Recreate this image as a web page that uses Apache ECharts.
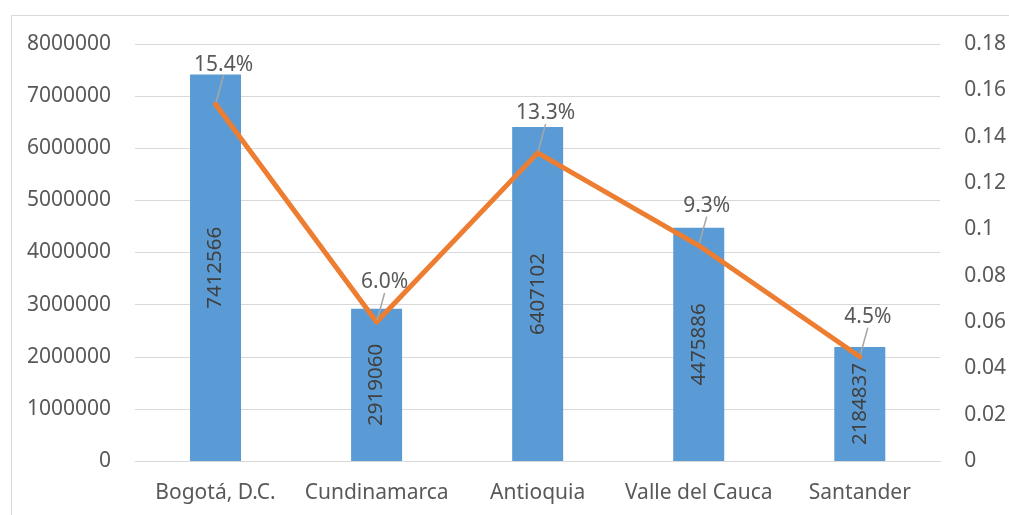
<!DOCTYPE html>
<html>
<head>
<meta charset="utf-8">
<script src="https://cdn.jsdelivr.net/npm/echarts@6/dist/echarts.min.js"></script>
<style>
  html, body { margin: 0; padding: 0; background: #fff; }
  #chart { width: 1009px; height: 515px; }
</style>
</head>
<body>
<div id="chart"></div>
<script>
// Population by department and share of the national total
const departments = ['Bogotá, D.C.', 'Cundinamarca', 'Antioquia', 'Valle del Cauca', 'Santander'];
const population = [7412566, 2919060, 6407102, 4475886, 2184837];
const share = [0.154, 0.060, 0.133, 0.093, 0.045];
const leftTicks = { min: 0, max: 8000000, interval: 1000000 };
const rightTicks = { min: 0, max: 0.18, interval: 0.02 };

const FONT = 'Noto Sans';
const TEXT = '#595959';
const GRID_LINE = '#D9D9D9';

const chart = echarts.init(document.getElementById('chart'), null, { renderer: 'canvas' });

// Share labels float above each line point, tied back to it by a short guide line
function shareLabelLayout(params) {
  const r = params.rect;
  return {
    x: r.x + r.width / 2 + 8,
    y: r.y + r.height / 2 - 29,
    align: 'center',
    verticalAlign: 'bottom'
  };
}

const option = {
  animation: false,
  backgroundColor: '#fff',
  textStyle: { fontFamily: FONT },
  graphic: [{
    type: 'rect',
    shape: { x: 11.5, y: 15.5, width: 1200, height: 700 },
    style: { fill: 'none', stroke: GRID_LINE, lineWidth: 1 },
    silent: true,
    z: -1
  }],
  grid: { left: 135, right: 67, top: 44, bottom: 54 },
  xAxis: {
    type: 'category',
    data: departments,
    axisLine: { show: true, lineStyle: { color: GRID_LINE, width: 1 } },
    axisTick: { show: false },
    axisLabel: { color: TEXT, fontSize: 21, fontFamily: FONT, margin: 22, interval: 0 }
  },
  yAxis: [{
    type: 'value',
    min: leftTicks.min, max: leftTicks.max, interval: leftTicks.interval,
    axisLine: { show: false },
    axisTick: { show: false },
    splitLine: { lineStyle: { color: GRID_LINE, width: 1 } },
    axisLabel: { color: TEXT, fontSize: 21, fontFamily: FONT, margin: 24, formatter: v => String(v) }
  }, {
    type: 'value',
    min: rightTicks.min, max: rightTicks.max, interval: rightTicks.interval,
    axisLine: { show: false },
    axisTick: { show: false },
    splitLine: { show: false },
    axisLabel: {
      color: TEXT, fontSize: 21, fontFamily: FONT, margin: 24,
      formatter: v => String(Math.round(v * 100) / 100)
    }
  }],
  series: [{
    name: 'Población',
    type: 'bar',
    data: population,
    barWidth: 51,
    itemStyle: { color: '#5B9BD5' },
    label: {
      show: true,
      position: 'inside',
      rotate: 90,
      color: '#404040',
      fontSize: 20.5,
      fontFamily: FONT
    },
    z: 2
  }, {
    name: 'Participación',
    type: 'line',
    yAxisIndex: 1,
    data: share,
    symbol: 'circle',
    symbolSize: 4,
    showSymbol: true,
    lineStyle: { color: '#ED7D31', width: 5, cap: 'round', join: 'round' },
    itemStyle: { color: '#ED7D31' },
    label: {
      show: true,
      position: 'top',
      color: TEXT,
      fontSize: 21,
      fontFamily: FONT,
      formatter: p => (p.value * 100).toFixed(1) + '%'
    },
    labelLine: {
      show: true,
      showAbove: false,
      lineStyle: { color: '#A6A6A6', width: 1.5 }
    },
    labelLayout: shareLabelLayout,
    z: 3
  }]
};

chart.setOption(option);
</script>
</body>
</html>
